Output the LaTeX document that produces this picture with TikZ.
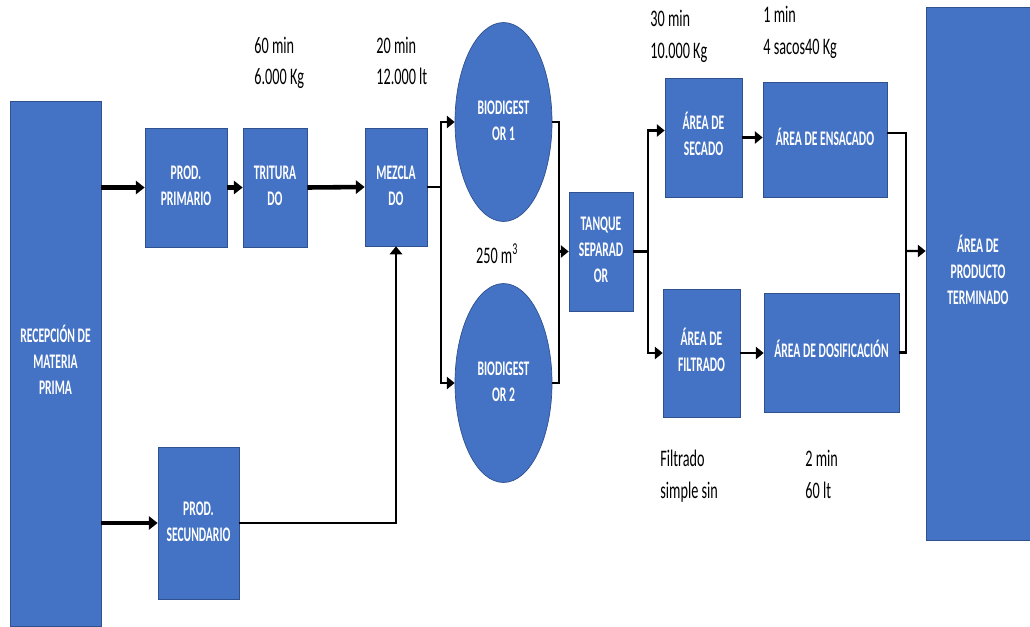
\documentclass[tikz,border=0pt]{standalone}
\usepackage{xcolor}
\usepackage{tikz}
\usepackage{graphicx}
\usepackage{fontspec}
\setmainfont{Carlito}
\usetikzlibrary{arrows.meta,shapes.geometric}

\definecolor{areablue}{HTML}{4472C4}
\definecolor{areaedge}{HTML}{2F528F}
\newcommand{\areatext}[1]{\scalebox{0.56}[1]{\begin{tabular}{@{}c@{}}#1\end{tabular}}}
\newcommand{\notetext}[1]{\scalebox{0.6}[1]{\begin{tabular}{@{}l@{}}#1\end{tabular}}}

\begin{document}
\begin{tikzpicture}[x=0.02cm, y=-0.02cm,
  area/.style={rectangle, draw=areaedge, fill=areablue, text=white, inner sep=0pt,
    font=\fontsize{11.8}{14.8}\selectfont\bfseries},
  tank/.style={ellipse, draw=areaedge, fill=areablue, text=white, inner sep=0pt,
    font=\fontsize{11.8}{14.8}\selectfont\bfseries},
  note/.style={anchor=west, inner sep=0pt, font=\fontsize{13.5}{18}\selectfont},
  bigflow/.style={line width=2.6pt, -{Triangle[length=5pt,width=7.5pt]}},
  flow/.style={line width=1.2pt, -{Triangle[length=4.5pt,width=7pt]}},
  pipe/.style={line width=1.2pt}]
\useasboundingbox (0,0) rectangle (1030,626);

% process areas
\node[area, minimum width=1.82cm, minimum height=10.5cm] (recep) at (55.5,363.5) {\areatext{RECEPCIÓN DE\\MATERIA\\PRIMA}};
\node[area, minimum width=1.64cm, minimum height=2.38cm] (prim) at (186,187.5) {\areatext{PROD.\\PRIMARIO}};
\node[area, minimum width=1.28cm, minimum height=2.38cm] (trit) at (275,187.5) {\areatext{TRITURA\\DO}};
\node[area, minimum width=1.24cm, minimum height=2.36cm] (mezc) at (396,187) {\areatext{MEZCLA\\DO}};
\node[area, minimum width=1.62cm, minimum height=3.04cm] (secund) at (198.5,523) {\areatext{PROD.\\SECUNDARIO}};
\node[tank, minimum width=1.94cm, minimum height=3.98cm] (bio1) at (503.5,122) {\areatext{BIODIGEST\\OR 1}};
\node[tank, minimum width=1.94cm, minimum height=3.98cm] (bio2) at (503.5,383) {\areatext{BIODIGEST\\OR 2}};
\node[area, minimum width=1.28cm, minimum height=2.38cm] (tanq) at (601,251.5) {\areatext{TANQUE\\SEPARAD\\OR}};
\node[area, minimum width=1.54cm, minimum height=2.38cm] (secado) at (703.5,137.5) {\areatext{ÁREA DE\\SECADO}};
\node[area, minimum width=2.48cm, minimum height=2.3cm] (ensac) at (825,140) {\areatext{ÁREA DE ENSACADO}};
\node[area, minimum width=1.54cm, minimum height=2.56cm] (filtr) at (701.5,353) {\areatext{ÁREA DE\\FILTRADO}};
\node[area, minimum width=2.7cm, minimum height=2.38cm] (dosif) at (831.5,352.5) {\areatext{ÁREA DE DOSIFICACIÓN}};
\node[area, minimum width=2.08cm, minimum height=10.66cm] (prod) at (978,273.5) {\areatext{ÁREA DE\\PRODUCTO\\TERMINADO}};

% notes
\node[note] (n1) at (254,62.5) {\notetext{60 min\\6.000 Kg}};
\node[note] (n2) at (376,62.5) {\notetext{20 min\\12.000 lt}};
\node[note, anchor=center] (n3) at (497,257) {\notetext{250 m\textsuperscript{3}}};
\node[note] (n4) at (650,36) {\notetext{30 min\\10.000 Kg}};
\node[note] (n5) at (763,32) {\notetext{1 min\\4 sacos40 Kg}};
\node[note] (n6) at (660,476) {\notetext{Filtrado\\simple sin}};
\node[note] (n7) at (805,476) {\notetext{2 min\\60 lt}};

% flows
\draw[bigflow] (recep.east |- prim.west) -- (prim.west);
\draw[bigflow] (prim.east) -- (trit.west);
\draw[bigflow] (trit.east) -- (mezc.west);
\draw[bigflow] (recep.east |- secund.west) -- (secund.west);
\draw[flow] (secund.east) -| (mezc.south);
\draw[pipe] (mezc.east) -- ++(14,0) coordinate (jm);
\draw[flow] (jm) |- (bio1.west);
\draw[flow] (jm) |- (bio2.west);
\draw[pipe] (bio1.east) -- ++(7,0) coordinate (jb) |- (bio2.east);
\draw[flow] (jb |- tanq.west) -- (tanq.west);
\draw[pipe] (tanq.east) -- ++(15,0) coordinate (jt);
\draw[flow] (jt) |- ([yshift=0.14cm]secado.west);
\draw[flow] (jt) |- (filtr.west);
\draw[flow] (secado.east) -- (ensac.west |- secado.east);
\draw[flow] (filtr.east) -- (dosif.west |- filtr.east);
\draw[pipe] ([yshift=0.14cm]ensac.east) -- ++(19,0) coordinate (je) |- (dosif.east);
\draw[flow] (je |- 0,251) -- ([yshift=0.45cm]prod.west);
\end{tikzpicture}
\end{document}
